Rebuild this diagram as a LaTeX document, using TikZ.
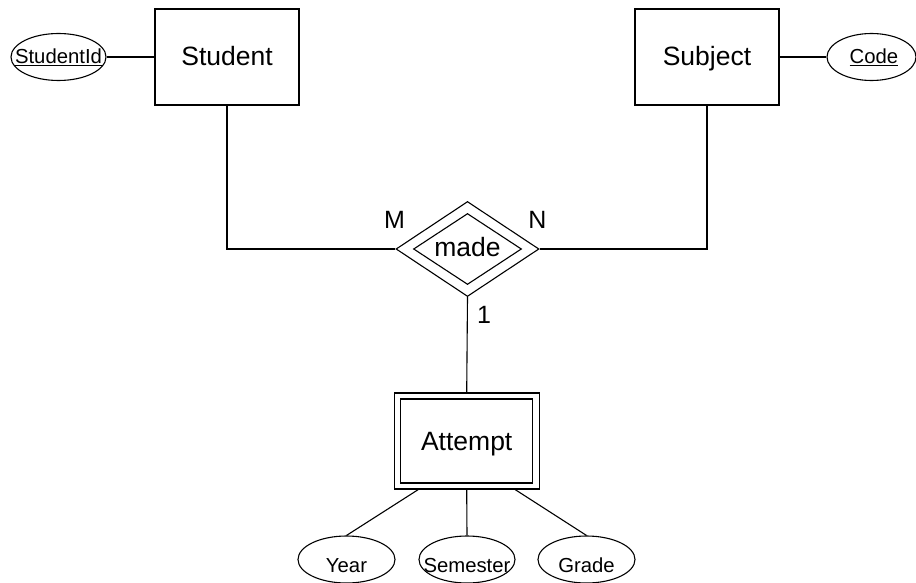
\documentclass[tikz,border=0pt]{standalone}
\usepackage{fontspec}
\setmainfont{Liberation Sans}
\usetikzlibrary{shapes.geometric}

% text that does not widen the shape around it
\newcommand\zerowide[1]{\makebox[0pt]{#1}}

\tikzset{
  er/.style={line width=1.1pt, black},
  entity/.style={er, draw, rectangle, minimum width=144pt, minimum height=96pt,
    inner sep=0pt, text height=19.5pt, text depth=2pt,
    font=\fontsize{26.5}{30}\selectfont},
  weakouter/.style={er, draw, rectangle, minimum width=145pt, minimum height=96pt, inner sep=0pt},
  weakinner/.style={er, draw, rectangle, minimum width=132pt, minimum height=84pt,
    inner sep=0pt, text height=20pt, text depth=2pt,
    font=\fontsize{26.5}{30}\selectfont},
  attr/.style={er, draw, ellipse, minimum width=95pt, minimum height=47pt,
    inner sep=0pt, font=\fontsize{20.3}{24}\selectfont},
  keyattr/.style={attr, text height=14.5pt, text depth=1.5pt},
  lowattr/.style={attr, text height=25pt, text depth=0pt},
  relouter/.style={er, draw, diamond, minimum width=143pt, minimum height=95pt, inner sep=0pt},
  relinner/.style={er, draw, diamond, aspect=1.52, minimum width=108pt, minimum height=71pt,
    inner sep=0pt, text height=17pt, text depth=3pt,
    font=\fontsize{26.5}{30}\selectfont},
  card/.style={font=\fontsize{25}{28}\selectfont, inner sep=0pt},
  link/.style={er}
}

\begin{document}
\begin{tikzpicture}[x=1pt, y=-1pt]
  \useasboundingbox (0,0) rectangle (916,583);

  % entities
  \node[entity] (student) at (227,57) {Student};
  \node[entity] (subject) at (707,57) {Subject};

  % key attributes
  \node[keyattr] (sid) at (58.5,57) {\zerowide{\underline{StudentId}}};
  \node[keyattr, minimum width=89pt] (code) at (871.5,57) {\zerowide{\hspace{5pt}\underline{Code}}};

  % identifying relationship
  \node[relouter] (made) at (467.5,249) {};
  \node[relinner] (madein) at (made.center) {made};

  % weak entity
  \node[weakouter] (attempt) at (466.7,441) {};
  \node[weakinner] (attemptin) at (attempt.center) {Attempt};

  % attributes of the weak entity
  \node[lowattr, minimum width=97pt] (year) at (346.5,559.5) {\zerowide{Year}};
  \node[lowattr, minimum width=96pt] (sem) at (467,559.5) {\zerowide{Semester}};
  \node[lowattr, minimum width=97pt] (grade) at (586.5,559.5) {\zerowide{Grade}};

  % cardinalities
  \node[card] (cm) at (394.5,220) {M};
  \node[card] (cn) at (537.5,220) {N};
  \node[card] (c1) at (484,314.7) {1};

  % connectors
  \draw[link] (sid.east) -- (student.west);
  \draw[link] (subject.east) -- (code.west);
  \draw[link] (student.south) |- (made.west);
  \draw[link] (subject.south) |- (made.east);
  \draw[link] (made.south) -- (attempt.north);
  \draw[link] ([xshift=-48.4pt]attempt.south) -- (year.north);
  \draw[link] (attempt.south) -- (sem.north);
  \draw[link] ([xshift=48.4pt]attempt.south) -- (grade.north);
\end{tikzpicture}
\end{document}
